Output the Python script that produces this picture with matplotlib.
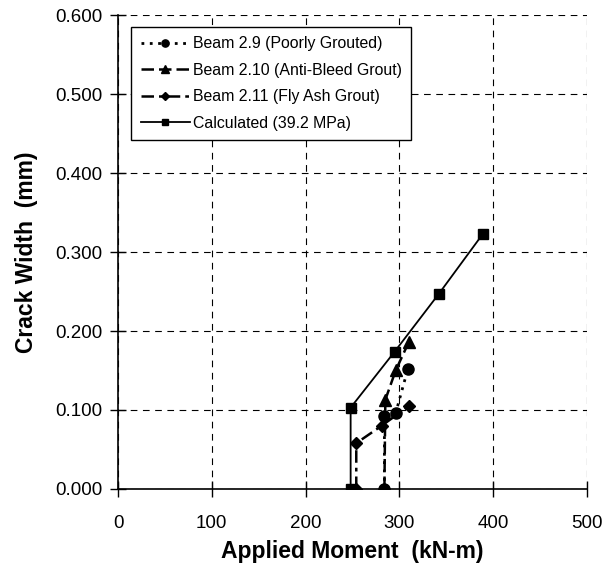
import matplotlib
matplotlib.use("Agg")
import matplotlib.pyplot as plt
from matplotlib.ticker import FormatStrFormatter

plt.rcParams['font.family'] = ['Liberation Sans', 'DejaVu Sans']

# Beam 2.9 (Poorly Grouted)
m_29 = [284, 284, 296, 309]
w_29 = [0.000, 0.092, 0.096, 0.152]
# Beam 2.10 (Anti-Bleed Grout)
m_210 = [284, 285, 296, 310]
w_210 = [0.000, 0.113, 0.150, 0.186]
# Beam 2.11 (Fly Ash Grout)
m_211 = [254, 254, 281, 310]
w_211 = [0.000, 0.058, 0.080, 0.105]
# Calculated (39.2 MPa)
m_calc = [248, 248, 295, 342, 389]
w_calc = [0.000, 0.103, 0.174, 0.247, 0.323]

fig = plt.figure(figsize=(6.03, 5.78), dpi=100)
ax = fig.add_axes([0.1957, 0.154, 0.7778, 0.820])

ax.plot(m_29, w_29, color='black', linestyle=(0, (1, 2)), linewidth=2,
        marker='o', markersize=8, label='Beam 2.9 (Poorly Grouted)')
ax.plot(m_210, w_210, color='black', linestyle=(0, (5, 2)), linewidth=1.8,
        marker='^', markersize=8, label='Beam 2.10 (Anti-Bleed Grout)')
ax.plot(m_211, w_211, color='black', linestyle=(0, (5, 2, 1.5, 2)), linewidth=1.8,
        marker='D', markersize=6, label='Beam 2.11 (Fly Ash Grout)')
ax.plot(m_calc, w_calc, color='black', linestyle='-', linewidth=1.3,
        marker='s', markersize=7, label='Calculated (39.2 MPa)')

ax.set_xlim(0, 500)
ax.set_ylim(0, 0.6)
ax.set_xticks([0, 100, 200, 300, 400, 500])
ax.set_yticks([0, 0.1, 0.2, 0.3, 0.4, 0.5, 0.6])
ax.yaxis.set_major_formatter(FormatStrFormatter('%.3f'))
ax.tick_params(direction='inout', length=11, width=1, labelsize=13.5)
ax.tick_params(axis='x', pad=13)
ax.tick_params(axis='y', pad=6)

ax.grid(True, color='black', linestyle=(0, (6, 5)), linewidth=0.8)
ax.set_axisbelow(True)
for side in ['top', 'right']:
    ax.spines[side].set_visible(False)
for side in ['left', 'bottom']:
    ax.spines[side].set_linewidth(1.2)

ax.set_xlabel('Applied Moment  (kN-m)', fontsize=16.5, fontweight='bold', labelpad=6)
ax.set_ylabel('Crack Width  (mm)', fontsize=16.5, fontweight='bold', labelpad=12)

leg = ax.legend(loc='upper left', bbox_to_anchor=(0.028, 0.975), borderaxespad=0,
                fontsize=11.4, frameon=True, fancybox=False, edgecolor='black',
                framealpha=1, handlelength=3.1, handletextpad=0.2, borderpad=0.6,
                labelspacing=0.72, markerscale=0.65)
leg.get_frame().set_linewidth(1)

fig.savefig('out.png', dpi=100)
